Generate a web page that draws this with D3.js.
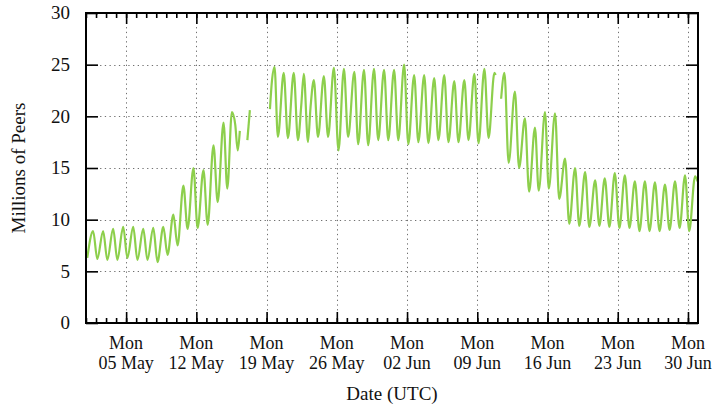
<!DOCTYPE html>
<html>
<head>
<meta charset="utf-8">
<script src="https://cdn.jsdelivr.net/npm/d3@7"></script>
<style>
  body { margin: 0; background: #fff; }
</style>
</head>
<body>
<svg id="chart" width="715" height="406"></svg>
<script>
// Peer counts (millions), one reading per daily peak / trough, split where the log has gaps.
const earlyMay = [
  ["05-01 03", 6.3], ["05-01 17", 8.9], ["05-02 03", 6.2],
  ["05-02 17", 8.9], ["05-03 03", 6.1], ["05-03 17", 9.1], ["05-04 03", 6.1],
  ["05-04 17", 9.3], ["05-05 03", 6.3], ["05-05 17", 9.3], ["05-06 03", 6.1],
  ["05-06 17", 9.1], ["05-07 03", 6.1], ["05-07 17", 9.2], ["05-08 03", 5.9],
  ["05-08 17", 9.3], ["05-09 03", 6.6], ["05-09 17", 10.5], ["05-10 03", 7.5],
  ["05-10 17", 13.3], ["05-11 03", 9.1], ["05-11 17", 15.0], ["05-12 03", 9.2],
  ["05-12 17", 14.8], ["05-13 03", 9.5], ["05-13 17", 17.2], ["05-14 03", 11.7],
  ["05-14 17", 19.4], ["05-15 02", 13.0], ["05-15 13", 20.4], ["05-15 21", 19.2],
  ["05-16 03", 16.7], ["05-16 08", 18.6]
];
const midMayShort = [
  ["05-17 02", 17.7], ["05-17 08", 20.6]
];
const plateau = [
  ["05-19 08", 20.7], ["05-19 13", 23.5], ["05-19 19", 24.8], ["05-20 03", 18.0],
  ["05-20 17", 24.2], ["05-21 03", 17.9], ["05-21 17", 24.2], ["05-22 03", 17.7],
  ["05-22 11", 21.1], ["05-22 17", 24.1], ["05-23 03", 17.5],
  ["05-23 09", 20.8], ["05-23 17", 23.5], ["05-24 03", 18.0],
  ["05-24 17", 23.9], ["05-25 03", 18.0], ["05-25 17", 24.7], ["05-26 04", 16.7],
  ["05-26 17", 24.6], ["05-27 03", 18.0], ["05-27 18", 24.3], ["05-28 03", 17.3],
  ["05-28 17", 24.5], ["05-29 03", 17.2], ["05-29 17", 24.6], ["05-30 03", 17.7],
  ["05-30 17", 24.5], ["05-31 03", 17.7], ["05-31 17", 24.5], ["06-01 03", 17.7],
  ["06-01 17", 25.0], ["06-02 03", 17.3], ["06-02 17", 24.0], ["06-03 03", 17.5],
  ["06-03 17", 24.0], ["06-04 03", 17.4], ["06-04 17", 23.7], ["06-05 03", 17.7],
  ["06-05 17", 24.0], ["06-06 03", 17.5], ["06-06 17", 23.4], ["06-07 03", 17.5],
  ["06-07 17", 23.5], ["06-08 03", 17.7], ["06-08 17", 24.1], ["06-09 03", 17.4],
  ["06-09 17", 24.6], ["06-10 03", 17.9], ["06-10 17", 24.2], ["06-10 20", 24.0]
];
const june = [
  ["06-11 09", 21.7], ["06-11 17", 24.2], ["06-12 03", 15.5],
  ["06-12 18", 22.4], ["06-13 04", 15.0], ["06-13 18", 19.8], ["06-14 04", 12.7],
  ["06-14 18", 18.9], ["06-15 03", 12.8], ["06-15 18", 20.4], ["06-16 03", 13.0],
  ["06-16 18", 20.3], ["06-17 04", 12.0], ["06-17 18", 15.9], ["06-18 04", 9.6],
  ["06-18 18", 15.0], ["06-19 04", 9.4], ["06-19 18", 14.6], ["06-20 04", 9.3],
  ["06-20 18", 13.8], ["06-21 04", 9.4], ["06-21 17", 14.0], ["06-22 04", 9.3],
  ["06-22 17", 14.5], ["06-23 04", 9.2], ["06-23 17", 14.3], ["06-24 04", 9.2],
  ["06-24 17", 13.7], ["06-25 04", 8.9], ["06-25 17", 13.7], ["06-26 04", 8.9],
  ["06-26 17", 13.6], ["06-27 04", 8.9], ["06-27 17", 13.4], ["06-28 04", 9.0],
  ["06-28 17", 13.7], ["06-29 04", 9.2], ["06-29 17", 14.3], ["06-30 03", 8.9],
  ["06-30 17", 14.2], ["06-30 23", 13.7]
];
const segments = [earlyMay, midMayShort, plateau, june];

const yTicks = [0, 5, 10, 15, 20, 25, 30];
const yGrid = [5, 10, 15, 20, 25];
const dateRange = ["2014-05-01 00", "2014-07-01 00"];
const yLabel = "Millions of Peers";
const xLabel = "Date (UTC)";

const FONT = "'Liberation Serif', 'Times New Roman', 'DejaVu Serif', serif";
const parse = d3.utcParse("%Y-%m-%d %H");
const svg = d3.select("#chart").attr("font-family", FONT);
const plot = { left: 86, right: 698, top: 13, bottom: 323 };

const x = d3.scaleUtc()
  .domain(dateRange.map(parse))
  .range([plot.left, plot.right]);
const y = d3.scaleLinear().domain([0, 30]).range([plot.bottom, plot.top]);

const mondays = d3.utcMonday.range(x.domain()[0], x.domain()[1]);
const days = d3.utcDay.range(x.domain()[0], x.domain()[1]);

// dotted grid
const grid = svg.append("g")
  .attr("stroke", "#707070").attr("stroke-width", 1).attr("stroke-dasharray", "1.3,3.4");
grid.selectAll("line.v").data(mondays).join("line").attr("class", "v")
  .attr("x1", d => Math.round(x(d)) + 0.5).attr("x2", d => Math.round(x(d)) + 0.5)
  .attr("y1", plot.top).attr("y2", plot.bottom);
grid.selectAll("line.h").data(yGrid).join("line").attr("class", "h")
  .attr("x1", plot.left).attr("x2", plot.right)
  .attr("y1", d => Math.round(y(d)) + 0.5).attr("y2", d => Math.round(y(d)) + 0.5);

// inward ticks on all four sides
function styleAxis(g) {
  g.select(".domain").remove();
  g.selectAll(".tick line").attr("stroke", "#000").attr("stroke-width", 1.6);
  g.selectAll(".tick text").remove();
}
svg.append("g").attr("transform", `translate(0,${plot.bottom})`)
  .call(d3.axisBottom(x).tickValues(days).tickSize(-5)).call(styleAxis);
svg.append("g").attr("transform", `translate(0,${plot.bottom})`)
  .call(d3.axisBottom(x).tickValues(mondays).tickSize(-11)).call(styleAxis);
svg.append("g").attr("transform", `translate(0,${plot.top})`)
  .call(d3.axisTop(x).tickValues(days).tickSize(-5)).call(styleAxis);
svg.append("g").attr("transform", `translate(0,${plot.top})`)
  .call(d3.axisTop(x).tickValues(mondays).tickSize(-11)).call(styleAxis);
svg.append("g").attr("transform", `translate(${plot.left},0)`)
  .call(d3.axisLeft(y).tickValues(yTicks).tickSize(-12)).call(styleAxis);
svg.append("g").attr("transform", `translate(${plot.right},0)`)
  .call(d3.axisRight(y).tickValues(yTicks).tickSize(-12)).call(styleAxis);

// series line
const line = d3.line()
  .x(d => x(parse("2014-" + d[0])))
  .y(d => y(d[1]))
  .curve(d3.curveMonotoneX);
svg.append("g").selectAll("path").data(segments).join("path")
  .attr("d", line)
  .attr("fill", "none")
  .attr("stroke", "#8dcf4c")
  .attr("stroke-width", 2.2)
  .attr("stroke-linejoin", "round");

// frame
svg.append("rect")
  .attr("x", plot.left).attr("y", plot.top)
  .attr("width", plot.right - plot.left).attr("height", plot.bottom - plot.top)
  .attr("fill", "none").attr("stroke", "#000").attr("stroke-width", 2);

// tick labels
svg.append("g").selectAll("text").data(yTicks).join("text")
  .attr("x", 70).attr("y", d => y(d)).attr("dy", "0.34em")
  .attr("text-anchor", "end").attr("font-size", 19).attr("fill", "#111")
  .text(d => d);

const fmtWeekday = d3.utcFormat("%a");
const fmtDay = d3.utcFormat("%d %b");
const xTickLabels = svg.append("g").attr("text-anchor", "middle")
  .attr("font-size", 18).attr("fill", "#111");
xTickLabels.selectAll("text.wd").data(mondays).join("text").attr("class", "wd")
  .attr("x", d => x(d)).attr("y", 349).text(fmtWeekday);
xTickLabels.selectAll("text.dm").data(mondays).join("text").attr("class", "dm")
  .attr("x", d => x(d)).attr("y", 369).text(fmtDay);

// axis titles
svg.append("text")
  .attr("x", (plot.left + plot.right) / 2).attr("y", 400)
  .attr("text-anchor", "middle").attr("font-size", 19).attr("fill", "#111")
  .text(xLabel);
svg.append("text")
  .attr("transform", `translate(25,${(plot.top + plot.bottom) / 2}) rotate(-90)`)
  .attr("text-anchor", "middle").attr("font-size", 19).attr("fill", "#111")
  .text(yLabel);
</script>
</body>
</html>
